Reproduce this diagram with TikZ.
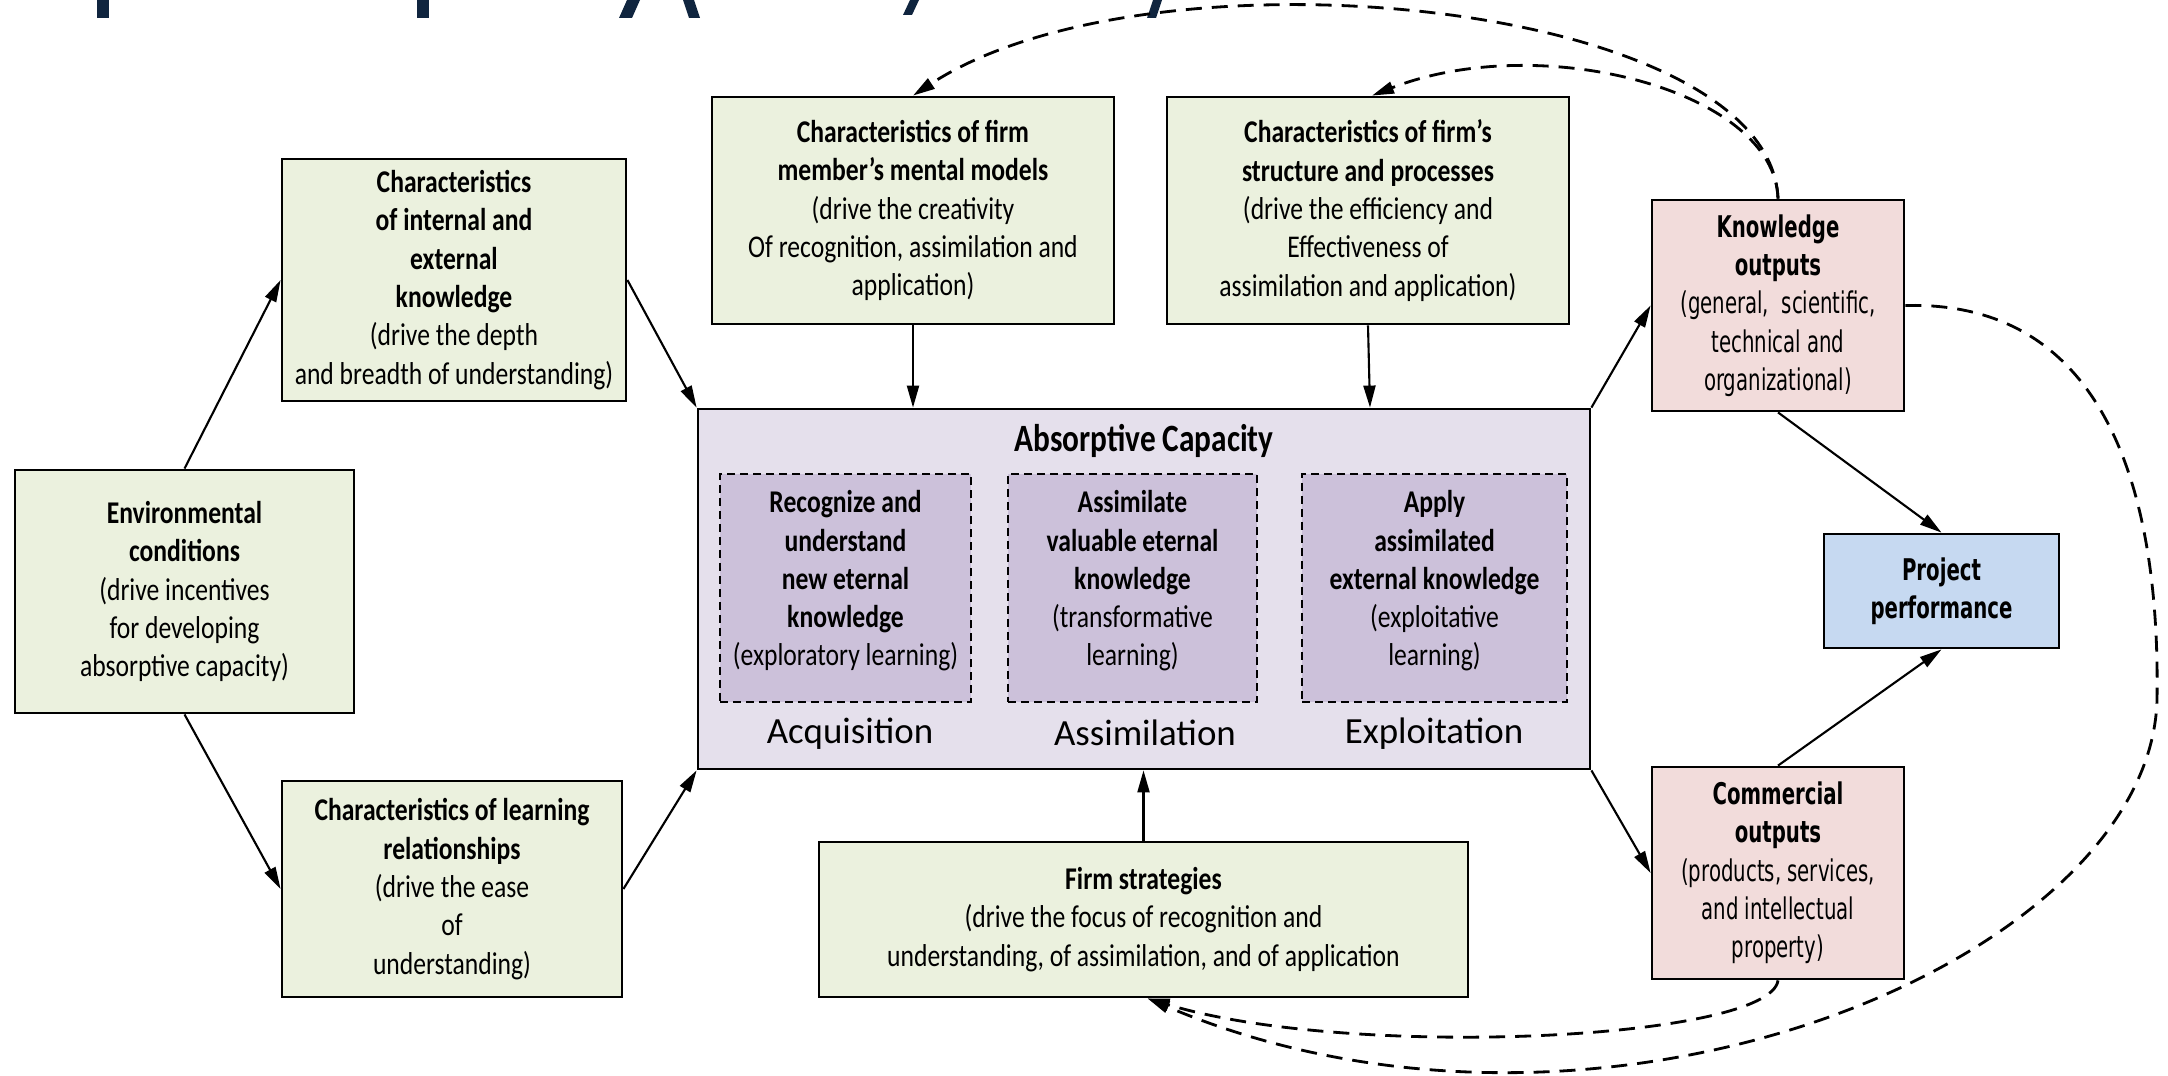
\documentclass[tikz,border=0pt]{standalone}
\usepackage{fontspec}
\setmainfont{Carlito}[FakeStretch=0.81]
\newfontfamily\plainfont{Carlito}
\newfontfamily\outfont{DejaVu Sans}[FakeStretch=0.66]
\usetikzlibrary{arrows.meta,calc}

\definecolor{boxgreen}{HTML}{EBF1DE}
\definecolor{acapfill}{HTML}{E5E0EC}
\definecolor{phasefill}{HTML}{CCC1DA}
\definecolor{outfill}{HTML}{F2DCDB}
\definecolor{perffill}{HTML}{C6D9F1}
\definecolor{titlenavy}{HTML}{10253F}

\tikzset{
  basebox/.style={draw=black, line width=0.8pt, inner sep=0pt, align=center},
  greenbox/.style={basebox, fill=boxgreen, font=\fontsize{9}{10.9}\selectfont},
  outbox/.style={basebox, fill=outfill, font=\outfont\fontsize{8.5}{10.9}\selectfont},
  perfbox/.style={basebox, fill=perffill, font=\outfont\fontsize{8.5}{10.9}\selectfont},
  acapbox/.style={basebox, fill=acapfill},
  phasebox/.style={draw=black, line width=0.7pt, dash pattern=on 0.8mm off 0.5mm, fill=phasefill, inner sep=0pt},
  phasetext/.style={align=center, inner sep=0pt, font=\fontsize{9}{10.9}\selectfont},
  phaselabel/.style={inner sep=0pt, font=\plainfont\fontsize{10.5}{12}\selectfont},
  link/.style={-{Triangle[length=2.2mm,width=1.2mm]}, line width=0.6pt},
  feedback/.style={-{Triangle[length=2.2mm,width=1.2mm]}, line width=0.8pt, dash pattern=on 1.6mm off 1mm},
  sliver/.style={fill=titlenavy}
}

\begin{document}
\begin{tikzpicture}[x=0.1mm,y=-0.1mm]
\path[use as bounding box, fill=white] (0,0) rectangle (2168,1076);

% lower ends of the heading letters above the chart
\fill[sliver] (97,0) -- (109,0) -- (109,18) -- (97,18) -- cycle;
\fill[sliver] (417,0) -- (429,0) -- (429,18) -- (417,18) -- cycle;
\fill[sliver] (627,0) -- (640,0) -- (632,18) -- (619,18) -- cycle;
\fill[sliver] (683,0) -- (694,0) -- (700,18) -- (689,18) -- cycle;
\fill[sliver] (910,0) -- (919,0) -- (912,15) -- (903,15) -- cycle;
\fill[sliver] (1153,0) -- (1162,0) -- (1156,18) -- (1147,18) -- cycle;

% antecedents
\node[greenbox, minimum width=33.9mm, minimum height=24.3mm] (env) at (184.5,591.5)
  {\textbf{Environmental}\\\textbf{conditions}\\(drive incentives\\for developing\\absorptive capacity)};
\node[greenbox, minimum width=34.4mm, minimum height=24.2mm] (know) at (454,280)
  {\textbf{Characteristics}\\\textbf{of internal and}\\\textbf{external}\\\textbf{knowledge}\\(drive the depth\\and breadth of understanding)};
\node[greenbox, minimum width=34.0mm, minimum height=21.6mm] (learn) at (452,889)
  {\textbf{Characteristics of learning}\\\textbf{relationships}\\(drive the ease\\of\\understanding)};
\node[greenbox, minimum width=40.2mm, minimum height=22.7mm] (ment) at (913,210.5)
  {\textbf{Characteristics of firm}\\\textbf{member’s mental models}\\(drive the creativity\\Of recognition, assimilation and\\application)};
\node[greenbox, minimum width=40.2mm, minimum height=22.7mm] (struc) at (1368,210.5)
  {\textbf{Characteristics of firm’s}\\\textbf{structure and processes}\\(drive the efficiency and\\Effectiveness of\\assimilation and application)};
\node[greenbox, minimum width=64.9mm, minimum height=15.5mm] (firm) at (1143.5,919.5)
  {\textbf{Firm strategies}\\(drive the focus of recognition and\\understanding, of assimilation, and of application};

% absorptive capacity block
\node[acapbox, minimum width=89.2mm, minimum height=36.0mm] (acap) at (1144,589) {};
\node[inner sep=0pt, font=\fontsize{11}{13}\selectfont\bfseries] (acaptitle) at (1144,441) {Absorptive Capacity};

\node[phasebox, minimum width=25.1mm, minimum height=22.8mm] (rec) at (845.5,588) {};
\node[phasebox, minimum width=24.9mm, minimum height=22.8mm] (asm) at (1132.5,588) {};
\node[phasebox, minimum width=26.5mm, minimum height=22.8mm] (app) at (1434.5,588) {};

\node[phasetext] (rectext) at (845.5,581)
  {\textbf{Recognize and}\\\textbf{understand}\\\textbf{new eternal}\\\textbf{knowledge}\\(exploratory learning)};
\node[phasetext] (asmtext) at (1132.5,581)
  {\textbf{Assimilate}\\\textbf{valuable eternal}\\\textbf{knowledge}\\(transformative\\learning)};
\node[phasetext] (apptext) at (1434.5,581)
  {\textbf{Apply}\\\textbf{assimilated}\\\textbf{external knowledge}\\(exploitative\\learning)};

\node[phaselabel] (acq) at (850,734) {Acquisition};
\node[phaselabel] (asl) at (1145,733) {Assimilation};
\node[phaselabel] (exp) at (1434,734) {Exploitation};

% outcomes
\node[outbox, minimum width=25.2mm, minimum height=21.1mm] (ko) at (1778,305.5)
  {\textbf{Knowledge}\\\textbf{outputs}\\(general, \ scientific,\\technical and\\organizational)};
\node[outbox, minimum width=25.2mm, minimum height=21.2mm] (co) at (1778,873)
  {\textbf{Commercial}\\\textbf{outputs}\\(products, services,\\and intellectual\\property)};
\node[perfbox, minimum width=23.5mm, minimum height=11.4mm] (pp) at (1941.5,591)
  {\textbf{Project}\\\textbf{performance}};

% solid links
\draw[link] (env.north) -- (know.west);
\draw[link] (env.south) -- (learn.west);
\draw[link] (know.east) -- (acap.north west);
\draw[link] (learn.east) -- (acap.south west);
\draw[link] (ment.south) -- (ment.south |- acap.north);
\draw[link] (struc.south) -- ($(struc.south |- acap.north)+(2,0)$);
\draw[link] (firm.north) -- (firm.north |- acap.south);
\draw[link] (acap.north east) -- (ko.west);
\draw[link] (acap.south east) -- (co.west);
\draw[link] (ko.south) -- (pp.north);
\draw[link] (co.north) -- (pp.south);

% feedback loops
\draw[feedback] (ko.north) .. controls (1775,90) and (1540,30) .. ($(struc.north)+(4,0)$);
\draw[feedback] (ko.north) .. controls (1770,0) and (1150,-60) .. (ment.north);
\draw[feedback] (ko.east) .. controls (2120,300) and (2160,520) .. (2157,700)
  .. controls (2150,960) and (1600,1190) .. ($(firm.south)+(4,0)$);
\draw[feedback] (co.south) .. controls (1770,1040) and (1350,1060) .. ($(firm.south)+(4,0)$);
\end{tikzpicture}
\end{document}
